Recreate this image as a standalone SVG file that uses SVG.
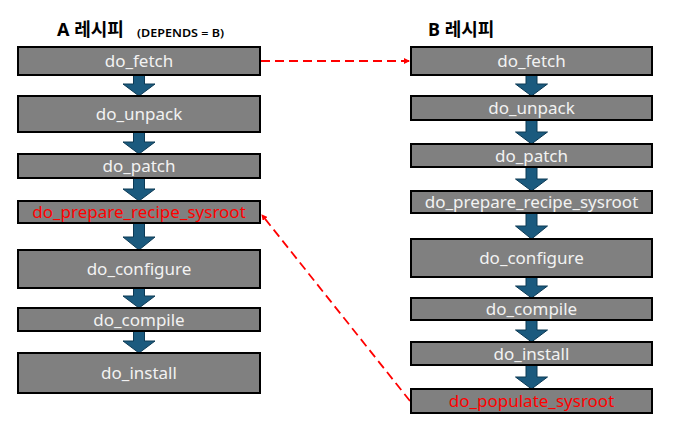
<svg xmlns="http://www.w3.org/2000/svg" width="675" height="434" viewBox="0 0 675 434">
<style>
.box{fill:#808080;stroke:#000;stroke-width:2}
.lbl{font-family:"Noto Sans","Noto Sans CJK KR",sans-serif;font-size:17px;fill:#F2F2F2;text-anchor:middle}
.red{fill:#FF0000}
.title{font-family:"Noto Sans","Noto Sans CJK KR",sans-serif;font-size:18px;font-weight:bold;fill:#000}
.sub{font-family:"Noto Sans","Noto Sans CJK KR",sans-serif;font-size:11px;font-weight:600;fill:#000}
.flow{fill:#1B5A7E;stroke:#0D3A55;stroke-width:1}
.dep{fill:none;stroke:#FF0000;stroke-width:1.8;stroke-dasharray:9,5}
</style>
<defs>
<marker id="ah" markerWidth="6" markerHeight="6" refX="5" refY="3" orient="auto" markerUnits="userSpaceOnUse">
<path d="M0,0 L6,3 L0,6 Z" fill="#FF0000"/>
</marker>
</defs>
<rect width="675" height="434" fill="#fff"/>
<text class="title" x="57" y="36">A 레시피</text>
<text class="sub" x="137" y="37" textLength="87" lengthAdjust="spacingAndGlyphs">(DEPENDS = B)</text>
<text class="title" x="428" y="36">B 레시피</text>

<g id="connectors">
<path class="flow" d="M133.5,75 L144.5,75 L144.5,84 L155,84 L139,96 L123,84 L133.5,84 Z"/>
<path class="flow" d="M133.5,132 L144.5,132 L144.5,142 L155,142 L139,154 L123,142 L133.5,142 Z"/>
<path class="flow" d="M133.5,178 L144.5,178 L144.5,189 L155,189 L139,201 L123,189 L133.5,189 Z"/>
<path class="flow" d="M133.5,223 L144.5,223 L144.5,237 L155,237 L139,250 L123,237 L133.5,237 Z"/>
<path class="flow" d="M133.5,288 L144.5,288 L144.5,296 L155,296 L139,308 L123,296 L133.5,296 Z"/>
<path class="flow" d="M133.5,331 L144.5,331 L144.5,341 L155,341 L139,353 L123,341 L133.5,341 Z"/>

<path class="flow" d="M526,75 L537,75 L537,84 L547.5,84 L531.5,96 L515.5,84 L526,84 Z"/>
<path class="flow" d="M526,120 L537,120 L537,132 L547.5,132 L531.5,144 L515.5,132 L526,132 Z"/>
<path class="flow" d="M526,167 L537,167 L537,179 L547.5,179 L531.5,191 L515.5,179 L526,179 Z"/>
<path class="flow" d="M526,213 L537,213 L537,226 L547.5,226 L531.5,239 L515.5,226 L526,226 Z"/>
<path class="flow" d="M526,277 L537,277 L537,286 L547.5,286 L531.5,298 L515.5,286 L526,286 Z"/>
<path class="flow" d="M526,320 L537,320 L537,330 L547.5,330 L531.5,342 L515.5,330 L526,330 Z"/>
<path class="flow" d="M526,365 L537,365 L537,377 L547.5,377 L531.5,389 L515.5,377 L526,377 Z"/>

<line class="dep" x1="261" y1="61" x2="409" y2="61" marker-end="url(#ah)"/>
<line class="dep" x1="410" y1="401" x2="262" y2="215" marker-end="url(#ah)"/>
</g>

<g id="a_fetch"><rect class="box" x="18" y="47" width="242" height="28"/><text class="lbl" x="139" y="67">do_fetch</text></g>
<g id="a_unpack"><rect class="box" x="18" y="96" width="242" height="36"/><text class="lbl" x="139" y="120">do_unpack</text></g>
<g id="a_patch"><rect class="box" x="18" y="154" width="242" height="24"/><text class="lbl" x="139" y="172">do_patch</text></g>
<g id="a_prepare"><rect class="box" x="18" y="201" width="242" height="22"/><text class="lbl red" x="139" y="218">do_prepare_recipe_sysroot</text></g>
<g id="a_configure"><rect class="box" x="18" y="250" width="242" height="38"/><text class="lbl" x="139" y="275">do_configure</text></g>
<g id="a_compile"><rect class="box" x="18" y="308" width="242" height="23"/><text class="lbl" x="139" y="325.5">do_compile</text></g>
<g id="a_install"><rect class="box" x="18" y="353" width="242" height="40"/><text class="lbl" x="139" y="379">do_install</text></g>

<g id="b_fetch"><rect class="box" x="411" y="47" width="241" height="28"/><text class="lbl" x="531.5" y="67">do_fetch</text></g>
<g id="b_unpack"><rect class="box" x="411" y="96" width="241" height="24"/><text class="lbl" x="531.5" y="114">do_unpack</text></g>
<g id="b_patch"><rect class="box" x="411" y="144" width="241" height="23"/><text class="lbl" x="531.5" y="161.5">do_patch</text></g>
<g id="b_prepare"><rect class="box" x="411" y="191" width="241" height="22"/><text class="lbl" x="531.5" y="208">do_prepare_recipe_sysroot</text></g>
<g id="b_configure"><rect class="box" x="411" y="239" width="241" height="38"/><text class="lbl" x="531.5" y="264">do_configure</text></g>
<g id="b_compile"><rect class="box" x="411" y="298" width="241" height="22"/><text class="lbl" x="531.5" y="315">do_compile</text></g>
<g id="b_install"><rect class="box" x="411" y="342" width="241" height="23"/><text class="lbl" x="531.5" y="359.5">do_install</text></g>
<g id="b_populate"><rect class="box" x="411" y="389" width="241" height="24"/><text class="lbl red" x="531.5" y="407">do_populate_sysroot</text></g>
</svg>
